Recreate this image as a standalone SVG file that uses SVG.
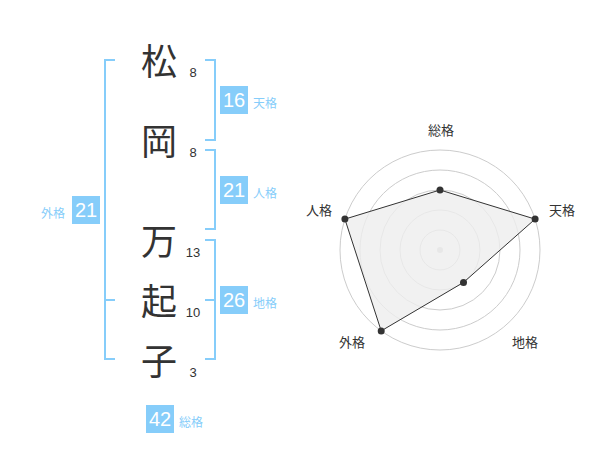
<svg xmlns="http://www.w3.org/2000/svg" width="600" height="470" viewBox="0 0 600 470">
<style>
.big{font-family:"Noto Sans CJK JP","Noto Sans CJK SC",sans-serif;font-size:36px;fill:#333;text-anchor:middle}
.num{font-family:"Liberation Sans",Arial,sans-serif;font-size:13px;fill:#333;text-anchor:middle}
.br{fill:none;stroke:#86cdfa;stroke-width:2}
.box{fill:#86cdfa}
.bn{font-family:"Liberation Sans",Arial,sans-serif;font-size:20px;fill:#fff;text-anchor:middle}
.lb{font-family:"Noto Sans CJK JP","Noto Sans CJK SC",sans-serif;font-size:12px;fill:#86cdfa}
.rl{font-family:"Noto Sans CJK JP","Noto Sans CJK SC",sans-serif;font-size:13px;fill:#333;text-anchor:middle}
.ring{fill:none;stroke:#ccc;stroke-width:1}
.pt{fill:#333}
</style>
<rect width="600" height="470" fill="#fff"/>
<g id="chars">
<g id="c1"><text class="big" x="159" y="75">松</text><text class="num" x="193" y="77">8</text></g>
<g id="c2"><text class="big" x="159" y="155">岡</text><text class="num" x="193" y="157">8</text></g>
<g id="c3"><text class="big" x="159" y="255">万</text><text class="num" x="193" y="257">13</text></g>
<g id="c4"><text class="big" x="159" y="315">起</text><text class="num" x="193" y="317">10</text></g>
<g id="c5"><text class="big" x="159" y="375">子</text><text class="num" x="193" y="377">3</text></g>
</g>
<g id="connectors">
<path class="br" d="M115,60 H105 V359 H115 M105,300 H115"/>
<path class="br" d="M205,60 H215 V140 H205"/>
<path class="br" d="M205,150 H215 V229 H205"/>
<path class="br" d="M205,240 H215 V359 H205 M205,300 H215"/>
</g>
<g id="tenkaku"><rect class="box" x="220" y="86" width="28" height="28"/><text class="bn" x="234" y="107">16</text><text class="lb" x="253" y="108">天格</text></g>
<g id="jinkaku"><rect class="box" x="220" y="176" width="28" height="28"/><text class="bn" x="234" y="197">21</text><text class="lb" x="253" y="198">人格</text></g>
<g id="chikaku"><rect class="box" x="220" y="286" width="28" height="28"/><text class="bn" x="234" y="307">26</text><text class="lb" x="253" y="308">地格</text></g>
<g id="gaikaku"><rect class="box" x="72" y="196" width="28" height="28"/><text class="bn" x="86" y="217">21</text><text class="lb" x="41" y="218">外格</text></g>
<g id="soukaku"><rect class="box" x="146" y="405" width="28" height="28"/><text class="bn" x="160" y="426">42</text><text class="lb" x="179" y="427">総格</text></g>
<g id="radar">
<circle class="ring" cx="440" cy="250" r="20"/>
<circle class="ring" cx="440" cy="250" r="40"/>
<circle class="ring" cx="440" cy="250" r="60"/>
<circle class="ring" cx="440" cy="250" r="80"/>
<circle class="ring" cx="440" cy="250" r="100"/>
<circle cx="440" cy="250" r="3" fill="#ccc"/>
<polygon points="440,190 535.1,219.1 463.5,282.4 381.2,330.9 344.9,219.1" fill="#eee" fill-opacity="0.8" stroke="#333" stroke-width="1"/>
<circle class="pt" cx="440" cy="190" r="3.5"/>
<circle class="pt" cx="535.1" cy="219.1" r="3.5"/>
<circle class="pt" cx="463.5" cy="282.4" r="3.5"/>
<circle class="pt" cx="381.2" cy="330.9" r="3.5"/>
<circle class="pt" cx="344.9" cy="219.1" r="3.5"/>
<text class="rl" x="441" y="135">総格</text>
<text class="rl" x="562" y="215">天格</text>
<text class="rl" x="525" y="347">地格</text>
<text class="rl" x="352" y="347">外格</text>
<text class="rl" x="319" y="215">人格</text>
</g>
</svg>
